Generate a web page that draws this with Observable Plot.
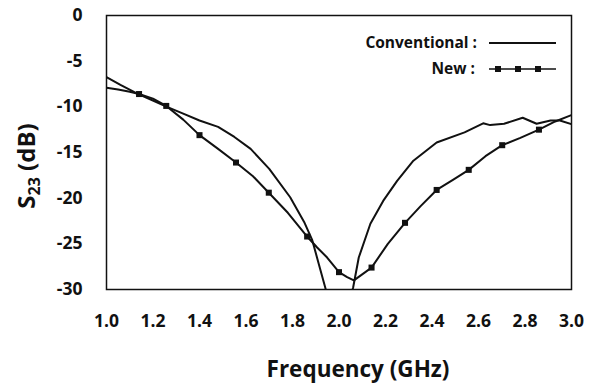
<!DOCTYPE html>
<html>
<head>
<meta charset="utf-8">
<script src="https://cdn.jsdelivr.net/npm/d3@7"></script>
<script src="https://cdn.jsdelivr.net/npm/@observablehq/plot@0.6"></script>
<style>
  html, body { margin: 0; padding: 0; background: #fff; }
  #chart svg { font-family: "Open Sans", sans-serif; }
  #chart svg g[aria-label$="tick label"] text { font-size: 17.5px !important; font-weight: bold; }
</style>
</head>
<body>
<div id="chart"></div>
<script>
// Conventional structure S23 (continuous line)
const convFreq = [1.00, 1.06, 1.12, 1.19, 1.26, 1.33, 1.40, 1.48, 1.55, 1.62, 1.70, 1.79, 1.85, 1.885, 1.913, 1.942, 1.97, 2.00, 2.03, 2.061, 2.085, 2.135, 2.19, 2.25, 2.32, 2.42, 2.54, 2.62, 2.65, 2.71, 2.79, 2.85, 2.91, 2.95, 3.00];
const convS23  = [-6.75, -7.6, -8.4, -9.2, -10.0, -10.75, -11.5, -12.2, -13.3, -14.6, -16.8, -19.9, -22.6, -24.6, -27.2, -29.9, -33, -35, -33, -29.75, -26.5, -22.8, -20.3, -18.1, -15.9, -13.9, -12.8, -11.8, -12.0, -11.85, -11.2, -11.85, -11.5, -11.5, -11.9];

// New structure S23 (line)
const newFreq = [1.00, 1.05, 1.10, 1.14, 1.20, 1.257, 1.33, 1.40, 1.48, 1.557, 1.63, 1.698, 1.78, 1.863, 1.906, 1.949, 2.00, 2.035, 2.064, 2.14, 2.21, 2.284, 2.35, 2.42, 2.49, 2.558, 2.63, 2.702, 2.78, 2.86, 2.93, 3.00];
const newS23  = [-7.9, -8.1, -8.35, -8.6, -9.1, -9.9, -11.4, -13.1, -14.6, -16.1, -17.6, -19.4, -21.6, -24.2, -25.4, -26.5, -28.1, -28.65, -29.0, -27.6, -25.0, -22.7, -20.9, -19.1, -18.0, -16.9, -15.4, -14.2, -13.4, -12.5, -11.6, -10.9];

// New structure markers
const newMarkFreq = [1.14, 1.257, 1.40, 1.557, 1.698, 1.863, 2.00, 2.14, 2.284, 2.42, 2.558, 2.702, 2.86];
const newMarkS23  = [-8.6, -9.9, -13.1, -16.1, -19.4, -24.2, -28.1, -27.6, -22.7, -19.1, -16.9, -14.2, -12.5];

const xTicks = [1.0, 1.2, 1.4, 1.6, 1.8, 2.0, 2.2, 2.4, 2.6, 2.8, 3.0];
const yTicks = [0, -5, -10, -15, -20, -25, -30];

const conv = convFreq.map((f, i) => ({f, s: convS23[i]}));
const nw = newFreq.map((f, i) => ({f, s: newS23[i]}));
const nwMarks = newMarkFreq.map((f, i) => ({f, s: newMarkS23[i]}));

const svg = Plot.plot({
  width: 595,
  height: 385,
  marginLeft: 106,
  marginRight: 24,
  marginTop: 15,
  marginBottom: 96,
  style: {fontFamily: "Open Sans, sans-serif", fontWeight: "bold", color: "#111"},
  x: {domain: [1, 3]},
  y: {domain: [-30, 0]},
  marks: [
    Plot.axisX(xTicks, {tickFormat: d => d.toFixed(1), tickSize: 0, tickPadding: 25, label: null, fontSize: 17.5, fontWeight: "bold"}),
    Plot.axisY(yTicks, {tickFormat: d => String(d), tickSize: 0, tickPadding: 24, label: null, fontSize: 17.5, fontWeight: "bold"}),
    Plot.line(conv, {x: "f", y: "s", stroke: "#111", strokeWidth: 2, clip: true}),
    Plot.line(nw, {x: "f", y: "s", stroke: "#111", strokeWidth: 2, clip: true}),
    Plot.dot(nwMarks, {x: "f", y: "s", symbol: "square", r: 3.4, fill: "#111", stroke: "none"}),
    Plot.frame({stroke: "#111", strokeWidth: 1.5})
  ]
});

const s = d3.select(svg);

// Axis titles
s.append("text")
  .attr("x", 358).attr("y", 377)
  .attr("text-anchor", "middle")
  .attr("font-size", 22.5).attr("font-weight", "bold").attr("fill", "#111")
  .text("Frequency (GHz)");

const yl = s.append("text")
  .attr("transform", "translate(35,166) rotate(-90)")
  .attr("text-anchor", "middle")
  .attr("font-size", 24).attr("font-weight", "bold").attr("fill", "#111");
yl.append("tspan").text("S");
yl.append("tspan").attr("font-size", 16).attr("dy", 5).text("23");
yl.append("tspan").attr("dy", -5).text(" (dB)");

// Legend
const lg = s.append("g").attr("font-size", 15.5).attr("font-weight", "bold").attr("fill", "#111");
lg.append("text").attr("x", 477).attr("y", 48).attr("text-anchor", "end").text("Conventional :");
lg.append("line").attr("x1", 489).attr("x2", 556).attr("y1", 43).attr("y2", 43).attr("stroke", "#111").attr("stroke-width", 2);
lg.append("text").attr("x", 475).attr("y", 74).attr("text-anchor", "end").text("New :");
lg.append("line").attr("x1", 489).attr("x2", 556).attr("y1", 69).attr("y2", 69).attr("stroke", "#111").attr("stroke-width", 1.5);
[498, 518, 538].forEach(x => lg.append("rect").attr("x", x - 3).attr("y", 66).attr("width", 6).attr("height", 6).attr("fill", "#111"));

document.getElementById("chart").appendChild(svg);
</script>
</body>
</html>
